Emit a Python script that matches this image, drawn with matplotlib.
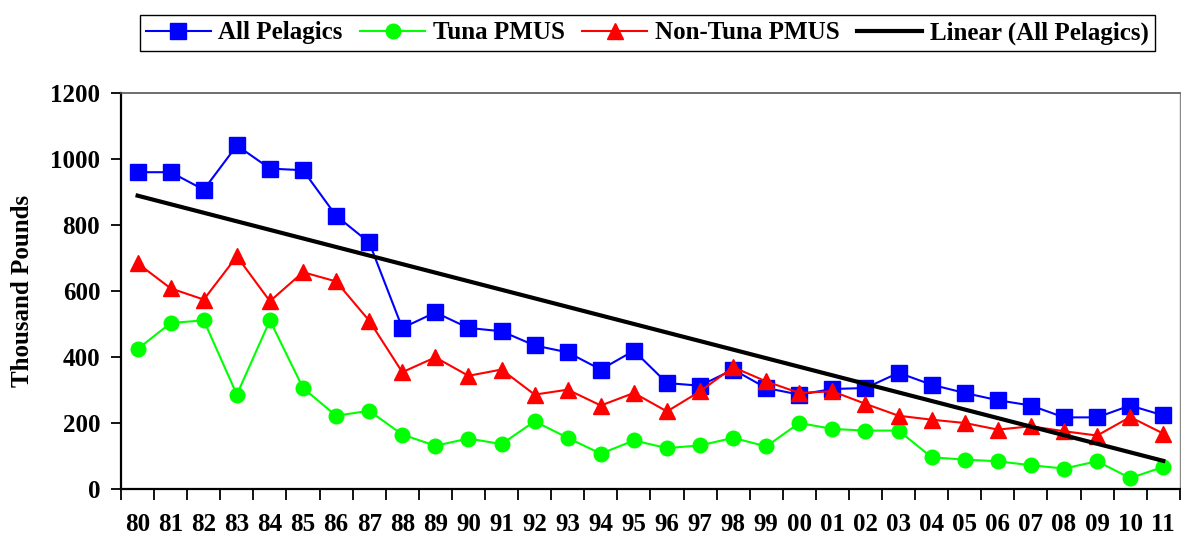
import numpy as np
import matplotlib
matplotlib.use('Agg')
import matplotlib.pyplot as plt

# Years (two-digit labels)
years = ['80', '81', '82', '83', '84', '85', '86', '87', '88', '89', '90', '91',
         '92', '93', '94', '95', '96', '97', '98', '99', '00', '01', '02', '03',
         '04', '05', '06', '07', '08', '09', '10', '11']

# Thousand pounds
all_pelagics = [960, 960, 907, 1041, 971, 966, 828, 747, 488, 535, 488, 478,
                435, 414, 362, 419, 321, 313, 362, 306, 286, 303, 306, 352,
                316, 291, 269, 253, 217, 217, 253, 223]
tuna_pmus = [424, 503, 511, 286, 511, 306, 222, 237, 165, 131, 153, 136,
             205, 155, 107, 147, 124, 132, 155, 129, 200, 182, 177, 177,
             96, 89, 84, 72, 62, 84, 33, 67]
non_tuna_pmus = [684, 608, 574, 705, 569, 657, 629, 510, 354, 399, 343, 362,
                 286, 301, 253, 291, 235, 296, 369, 326, 291, 296, 258, 222,
                 210, 200, 180, 190, 175, 162, 218, 168]

plt.rcParams['font.family'] = ['Liberation Serif', 'DejaVu Serif']
plt.rcParams['font.weight'] = 'bold'

x = np.arange(len(years))
fit = np.polyfit(x, all_pelagics, 1)
trend = np.polyval(fit, x)

fig = plt.figure(figsize=(11.81, 5.37), dpi=100)
ax = fig.add_axes([0.1025, 0.0894, 0.8965, 0.7374])

ax.plot(x, all_pelagics, color='#0000FF', marker='s', markersize=11, lw=1.5,
        label='All Pelagics')
ax.plot(x, tuna_pmus, color='#00FF00', marker='o', markersize=10.5, lw=1.5,
        label='Tuna PMUS')
ax.plot(x, non_tuna_pmus, color='#FF0000', marker='^', markersize=12, lw=1.5,
        label='Non-Tuna PMUS')
ax.plot(x, trend, color='black', lw=3, label='Linear (All Pelagics)')

ax.set_xlim(-0.5, len(years) - 0.5)
ax.set_ylim(0, 1200)
ax.set_yticks(range(0, 1201, 200))
ax.set_xticks(x)
ax.set_xticklabels(years)
ax.set_xticks(np.arange(-0.5, len(years), 1), minor=True)
ax.tick_params(axis='x', which='major', length=0, pad=17, labelsize=18)
ax.tick_params(axis='x', which='minor', length=8, width=1.3, direction='out')
ax.tick_params(axis='y', length=7, width=1.3, pad=8, labelsize=18)
for lab in ax.get_xticklabels() + ax.get_yticklabels():
    lab.set_fontweight('bold')

ax.spines['left'].set_linewidth(1.6)
ax.spines['bottom'].set_linewidth(1.6)
ax.spines['top'].set_linewidth(1.2)
ax.spines['top'].set_color('#555555')
ax.spines['right'].set_linewidth(1.0)
ax.spines['right'].set_color('#888888')

ax.set_ylabel('Thousand Pounds', fontsize=18, fontweight='bold', labelpad=12)

leg = fig.legend(loc='upper center', bbox_to_anchor=(0.548, 0.995), ncol=4,
                 fancybox=False, edgecolor='black', framealpha=1,
                 prop={'size': 18, 'weight': 'bold'}, handlelength=2.6,
                 columnspacing=0.7, handletextpad=0.3, borderpad=0.25)
leg.get_frame().set_linewidth(1.0)

fig.savefig('out.png', dpi=100)
